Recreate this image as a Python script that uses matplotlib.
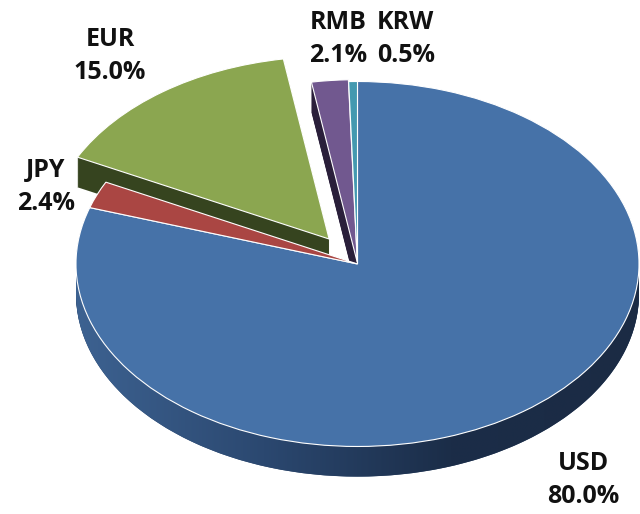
import numpy as np
import matplotlib
matplotlib.use("Agg")
import matplotlib.pyplot as plt
from matplotlib.patches import Polygon
from matplotlib.colors import LinearSegmentedColormap

# data
currencies = ["USD", "JPY", "EUR", "RMB", "KRW"]
shares = [80.0, 2.4, 15.0, 2.1, 0.5]
explode = [0.0, 0.0, 0.17, 0.01, 0.0]

top_colors = ["#4672A8", "#AA4643", "#8BA650", "#71588F", "#4399B0"]
side_colors = ["#2B4568", "#6B2B29", "#36441F", "#2A1F3A", "#1E4A56"]

# label positions in axes fraction (x, y)
label_pos = [(0.911, 0.066), (0.072, 0.636), (0.172, 0.891), (0.528, 0.924), (0.634, 0.924)]

depth = 0.165      # thickness of the pie, in data units (radius = 1)
n_layers = 30

fig = plt.figure(figsize=(6.4, 5.14), dpi=100)
ax = fig.add_axes([0, 0, 1, 1])

# side layers, stacked from bottom up
for k in range(n_layers, 0, -1):
    ax.pie(shares, explode=explode, colors=side_colors, startangle=90,
           counterclock=False, center=(0, -depth * k / n_layers),
           wedgeprops=dict(linewidth=0), normalize=True)

# gradient on the front rim
t = np.linspace(np.pi, 2 * np.pi, 300)
rim = np.concatenate([np.column_stack([np.cos(t), np.sin(t)]),
                      np.column_stack([np.cos(t[::-1]), np.sin(t[::-1]) - depth])])
rim_patch = Polygon(rim, closed=True, transform=ax.transData)
cmap = LinearSegmentedColormap.from_list("rim", ["#3D6291", "#2B4870", "#1B2D48", "#1B2B44"])
grad = np.linspace(0, 1, 256).reshape(1, -1)
im = ax.imshow(grad, cmap=cmap, extent=(-1, 1, -1 - depth, 0), aspect="auto", zorder=2)
im.set_clip_path(rim_patch)

# top faces
wedges, _ = ax.pie(shares, explode=explode, colors=top_colors, startangle=90,
                   counterclock=False,
                   wedgeprops=dict(linewidth=0.8, edgecolor="white"), normalize=True)
for w in wedges:
    w.set_zorder(3)

ax.set_aspect("auto")
ax.set_xlim(-1.270, 1.0036)
ax.set_ylim(-1.370, 1.4466)
ax.axis("off")

for name, val, (x, y) in zip(currencies, shares, label_pos):
    ax.text(x, y, f"{name}\n{val:.1f}%", transform=ax.transAxes, ha="center", va="center",
            fontsize=18, fontweight="bold", family="Open Sans", linespacing=1.4, color="#111111")

fig.savefig("out.png", dpi=100)
